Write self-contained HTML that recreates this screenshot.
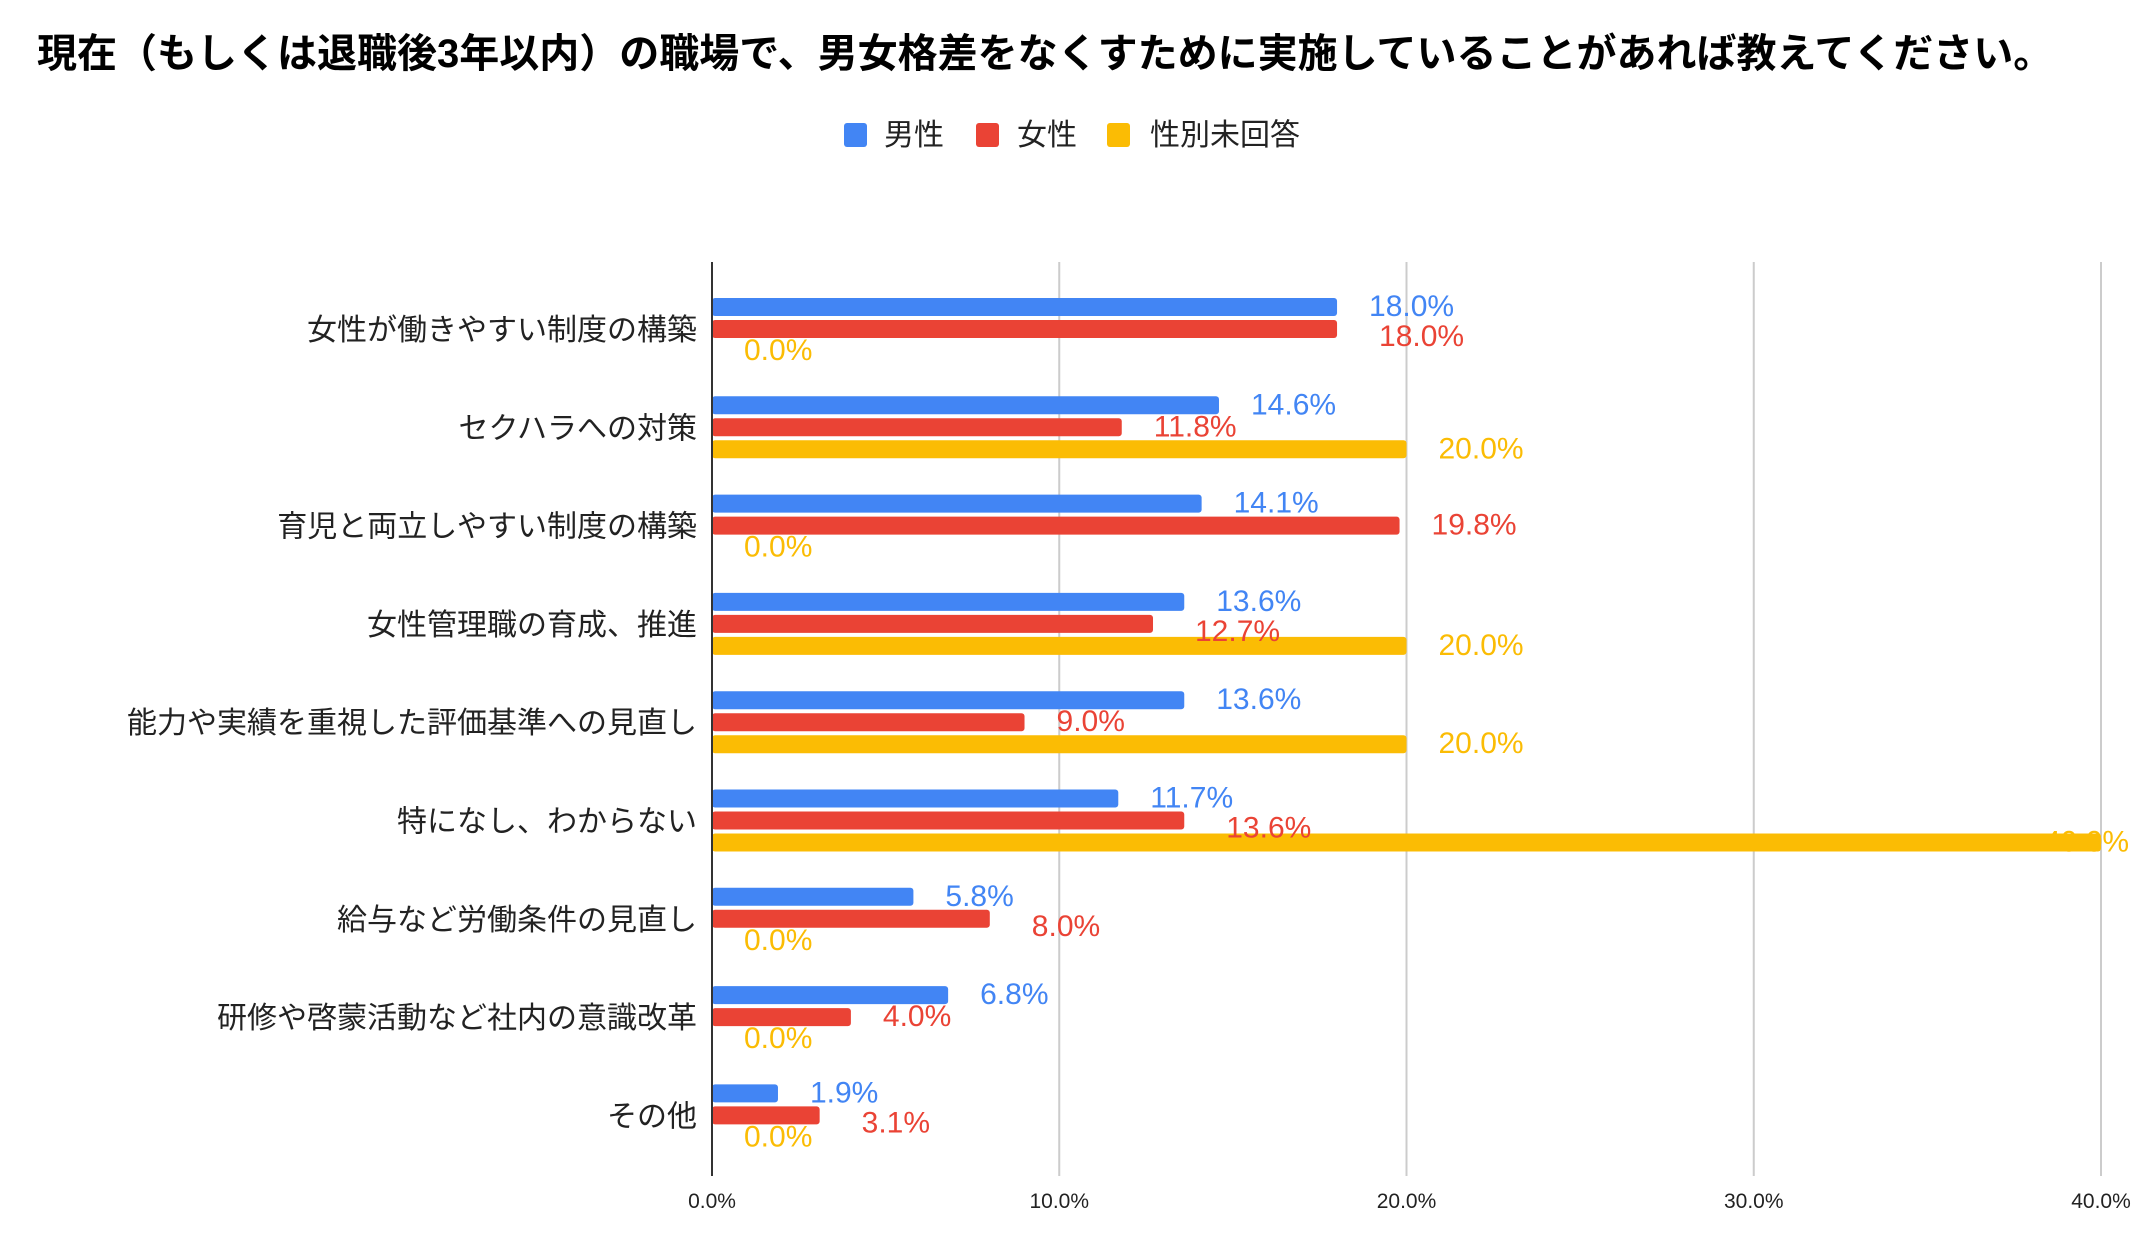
<!DOCTYPE html>
<html><head><meta charset="utf-8">
<style>
html,body{margin:0;padding:0;background:#fff;}
svg{display:block;font-family:"Liberation Sans","Noto Sans CJK JP",sans-serif;}
</style></head>
<body>
<svg id="chart" width="2156" height="1250" viewBox="0 0 2156 1250" xmlns="http://www.w3.org/2000/svg">
<rect width="2156" height="1250" fill="#fff"/>
<text x="37" y="67" font-size="40" font-weight="bold" fill="#000" font-family="'Liberation Sans','Noto Sans CJK JP',sans-serif">現在（もしくは退職後3年以内）の職場で、男女格差をなくすために実施していることがあれば教えてください。</text>
<g>
  <g><rect x="844" y="123" width="23" height="24" rx="3" fill="#4285F4"/><text x="884" y="145" font-size="30" fill="#222">男性</text></g>
  <g><rect x="976" y="123" width="23" height="24" rx="3" fill="#EA4335"/><text x="1017" y="145" font-size="30" fill="#222">女性</text></g>
  <g><rect x="1107" y="123" width="23" height="24" rx="3" fill="#FBBC04"/><text x="1150" y="145" font-size="30" fill="#222">性別未回答</text></g>
</g>
<g id="grid"></g>
<g id="bars"></g>
<g id="labels"></g>
</svg>
<script>
const categories = ["女性が働きやすい制度の構築","セクハラへの対策","育児と両立しやすい制度の構築","女性管理職の育成、推進","能力や実績を重視した評価基準への見直し","特になし、わからない","給与など労働条件の見直し","研修や啓蒙活動など社内の意識改革","その他"];
const maleValues = [18.0,14.6,14.1,13.6,13.6,11.7,5.8,6.8,1.9];
const femaleValues = [18.0,11.8,19.8,12.7,9.0,13.6,8.0,4.0,3.1];
const unansweredValues = [0.0,20.0,0.0,20.0,20.0,40.0,0.0,0.0,0.0];
const tickValues = [0,10,20,30,40];
const tickLabels = ["0.0%","10.0%","20.0%","30.0%","40.0%"];

const NS = "http://www.w3.org/2000/svg";
const X0 = 712, X1 = 2101, XMAX = 40, TOP = 262, BOTTOM = 1176;
const G0 = 329, GSTEP = 98.3, BAR_H = 18, PITCH = 22;
function xScale(v){ return X0 + (v / XMAX) * (X1 - X0); }
function groupCenter(i){ return G0 + i * GSTEP; }
function mk(tag, attrs){ const e = document.createElementNS(NS, tag); for (const k in attrs) e.setAttribute(k, attrs[k]); return e; }

const grid = document.getElementById('grid');
tickValues.forEach((t, i) => {
  const x = xScale(t);
  if (i > 0) {
    const l = mk('line', {x1:x, x2:x, y1:TOP, y2:BOTTOM, stroke:'#ccc', 'stroke-width':2});
    
    
    grid.appendChild(l);
  }
  const tx = mk('text', {x:x, y:1208, 'font-size':21, fill:'#222', 'text-anchor':'middle'});
  tx.textContent = tickLabels[i];
  
  
  grid.appendChild(tx);
});
const axis = mk('line', {x1:X0, x2:X0, y1:TOP, y2:BOTTOM, stroke:'#333', 'stroke-width':2});



const bars = document.getElementById('bars');
const labels = document.getElementById('labels');
const series = [maleValues, femaleValues, unansweredValues];
const colors = ['#4285F4', '#EA4335', '#FBBC04'];
const snames = ['male', 'female', 'unanswered'];

categories.forEach((c, i) => {
  const gc = groupCenter(i);
  const ct = mk('text', {x:697, y:gc + 11, 'font-size':30, fill:'#222', 'text-anchor':'end'});
  ct.textContent = c;
  
  
  labels.appendChild(ct);
  const placed = [];
  series.forEach((vals, j) => {
    const v = vals[i];
    const by = gc - PITCH - BAR_H / 2 + j * PITCH;
    const w = xScale(v) - X0;
    if (w > 0) {
      const r = mk('rect', {x:X0, y:by, width:w, height:BAR_H, rx:3, fill:colors[j]});
      
      
      bars.appendChild(r);
    }
    let lx = xScale(v) + 32;
    const lw = 90;
    if (lx + lw > 2134) lx = 2134 - lw;
    let ly = by + BAR_H / 2 - 2;
    placed.forEach(p => {
      if (Math.abs(ly - p.y) < 30 && lx < p.x + lw && p.x < lx + lw) { ly = p.y + 30; lx += 10; }
    });
    placed.push({x:lx, y:ly});
    const t = mk('text', {x:lx, y:ly + 11, 'font-size':30, fill:colors[j]});
    t.textContent = v.toFixed(1) + '%';
    
    
    labels.appendChild(t);
  });
});
bars.appendChild(axis);
</script>
</body></html>
